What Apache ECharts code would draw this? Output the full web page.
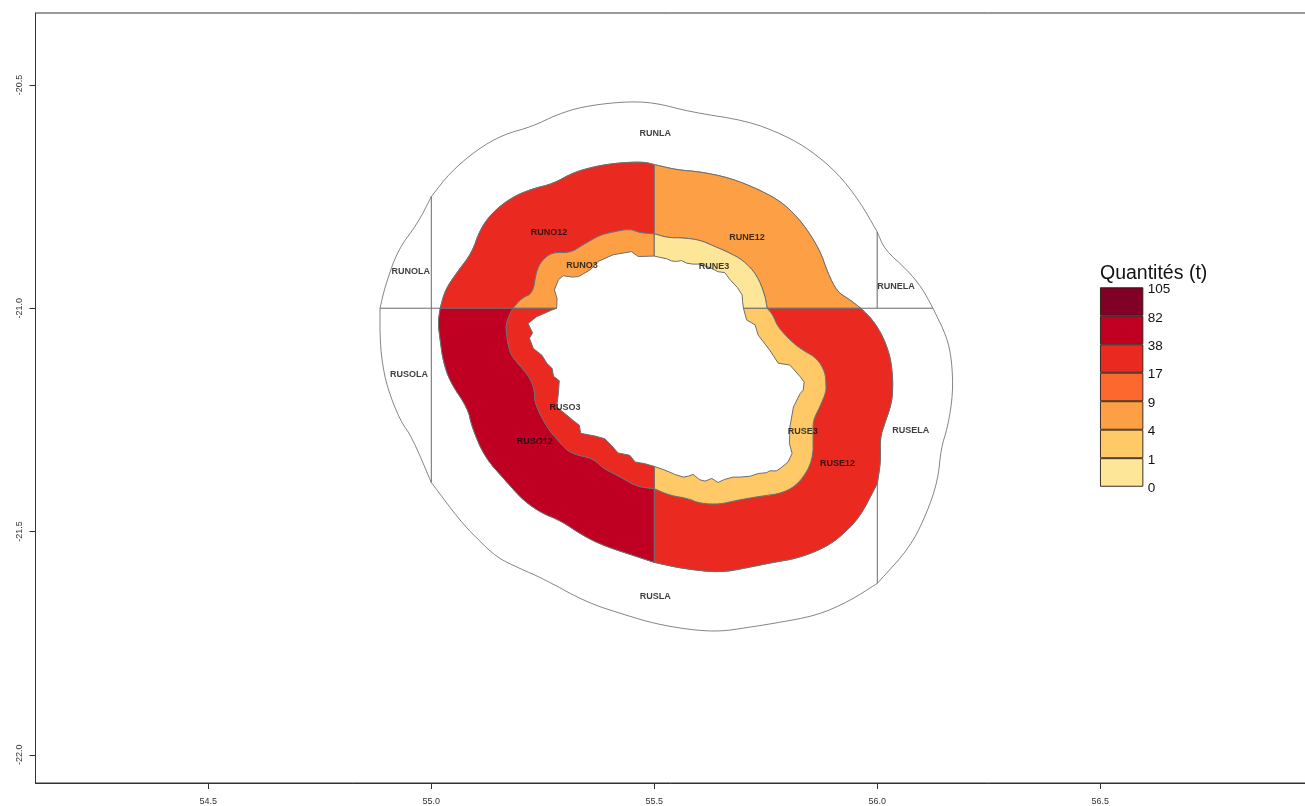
<!DOCTYPE html>
<html><head><meta charset="utf-8">
<style>html,body{margin:0;padding:0;background:#fff;overflow:hidden}#c{width:1305px;height:806px}</style>
<script src="https://cdn.jsdelivr.net/npm/echarts@6/dist/echarts.min.js"></script>
</head><body><div id="c"></div>
<script>
// Tick labels
const lonTicks = [54.5, 55.0, 55.5, 56.0, 56.5];
const latTicks = [-20.5, -21.0, -21.5, -22.0];
// Legend
const legendBreaks = ['0', '1', '4', '9', '17', '38', '82', '105'];
const legendColors = ['#FEE698', '#FEC966', '#FD9F44', '#FD682F', '#EA2A20', '#BF0023', '#800026'];
const breakValues = [0, 1, 4, 9, 17, 38, 82, 105];
// Coast of the island [lon, lat]
const coastNE = [[55.5,-20.883],[55.513,-20.886],[55.528,-20.889],[55.539,-20.894],[55.550,-20.895],[55.561,-20.893],[55.573,-20.899],[55.587,-20.901],[55.602,-20.901],[55.625,-20.909],[55.643,-20.918],[55.658,-20.920],[55.670,-20.936],[55.686,-20.953],[55.697,-20.970],[55.698,-20.985],[55.700,-21]];
const coastSE = [[55.700,-21],[55.707,-21.026],[55.726,-21.037],[55.733,-21.060],[55.759,-21.094],[55.778,-21.123],[55.804,-21.127],[55.827,-21.153],[55.836,-21.165],[55.834,-21.183],[55.827,-21.191],[55.812,-21.221],[55.804,-21.266],[55.803,-21.303],[55.809,-21.325],[55.800,-21.344],[55.782,-21.359],[55.774,-21.364],[55.759,-21.364],[55.752,-21.368],[55.733,-21.370],[55.715,-21.376],[55.692,-21.378],[55.677,-21.378],[55.658,-21.383],[55.643,-21.390],[55.629,-21.381],[55.614,-21.387],[55.602,-21.384],[55.587,-21.372],[55.576,-21.376],[55.565,-21.378],[55.546,-21.372],[55.535,-21.367],[55.520,-21.361],[55.5,-21.354]];
const coastSW = [[55.5,-21.354],[55.479,-21.348],[55.457,-21.344],[55.445,-21.329],[55.419,-21.324],[55.404,-21.307],[55.389,-21.292],[55.367,-21.286],[55.335,-21.280],[55.332,-21.262],[55.318,-21.251],[55.300,-21.236],[55.281,-21.221],[55.285,-21.191],[55.287,-21.162],[55.274,-21.152],[55.271,-21.135],[55.259,-21.123],[55.248,-21.105],[55.229,-21.090],[55.220,-21.067],[55.227,-21.055],[55.217,-21.034],[55.236,-21.019],[55.270,-21.004],[55.281,-21]];
const coastNW = [[55.281,-21],[55.282,-20.978],[55.276,-20.959],[55.285,-20.936],[55.296,-20.927],[55.315,-20.930],[55.330,-20.929],[55.356,-20.914],[55.374,-20.895],[55.408,-20.880],[55.449,-20.873],[55.464,-20.884],[55.5,-20.883]];
// Limit between the 3 and 12 mile zones
const midNE = [[55.5,-20.833],[55.531,-20.842],[55.564,-20.842],[55.602,-20.847],[55.632,-20.860],[55.665,-20.874],[55.699,-20.892],[55.730,-20.925],[55.748,-20.970],[55.753,-21]];
const midSE = [[55.753,-21],[55.766,-21.015],[55.777,-21.042],[55.809,-21.076],[55.833,-21.094],[55.865,-21.112],[55.883,-21.143],[55.885,-21.170],[55.885,-21.188],[55.871,-21.221],[55.856,-21.251],[55.856,-21.278],[55.856,-21.340],[55.827,-21.390],[55.789,-21.414],[55.737,-21.421],[55.685,-21.430],[55.647,-21.439],[55.602,-21.437],[55.576,-21.426],[55.535,-21.419],[55.5,-21.404]];
const midSW = [[55.5,-21.404],[55.461,-21.399],[55.430,-21.381],[55.385,-21.358],[55.363,-21.336],[55.311,-21.325],[55.284,-21.296],[55.259,-21.266],[55.232,-21.213],[55.232,-21.184],[55.221,-21.154],[55.192,-21.121],[55.176,-21.100],[55.167,-21.049],[55.170,-21.026],[55.183,-21]];
const midNW = [[55.183,-21],[55.203,-20.977],[55.228,-20.966],[55.235,-20.919],[55.248,-20.892],[55.273,-20.874],[55.311,-20.876],[55.340,-20.858],[55.378,-20.836],[55.407,-20.829],[55.445,-20.822],[55.468,-20.831],[55.5,-20.833]];
// Outer limit of the 12 mile zone
const outerNE = [[55.5,-20.678],[55.551,-20.690],[55.602,-20.694],[55.670,-20.708],[55.737,-20.735],[55.789,-20.764],[55.833,-20.809],[55.871,-20.869],[55.889,-20.921],[55.910,-20.963],[55.939,-20.981],[55.963,-21]];
const outerE = [[55.963,-21],[55.990,-21.026],[56.013,-21.064],[56.028,-21.105],[56.033,-21.138],[56.035,-21.168],[56.033,-21.210],[56.017,-21.257],[56.006,-21.291],[56.008,-21.340],[56.0,-21.392]];
const outerSE = [[56.0,-21.392],[55.961,-21.468],[55.916,-21.513],[55.878,-21.538],[55.820,-21.560],[55.766,-21.569],[55.708,-21.581],[55.647,-21.592],[55.564,-21.583],[55.5,-21.569]];
const outerSW = [[55.5,-21.569],[55.439,-21.549],[55.385,-21.531],[55.340,-21.509],[55.289,-21.475],[55.248,-21.459],[55.206,-21.430],[55.170,-21.390],[55.120,-21.334],[55.091,-21.266],[55.082,-21.224],[55.042,-21.165],[55.026,-21.116],[55.020,-21.071],[55.015,-21.033],[55.020,-21]];
const outerNW = [[55.020,-21],[55.031,-20.959],[55.058,-20.919],[55.091,-20.876],[55.109,-20.824],[55.138,-20.784],[55.183,-20.750],[55.228,-20.732],[55.273,-20.721],[55.318,-20.696],[55.372,-20.681],[55.423,-20.674],[55.475,-20.672],[55.5,-20.678]];
// Limit of the large zones
const farN = [[55.0,-20.750],[55.042,-20.696],[55.102,-20.645],[55.161,-20.611],[55.226,-20.593],[55.282,-20.566],[55.340,-20.548],[55.430,-20.537],[55.5,-20.539],[55.580,-20.560],[55.708,-20.580],[55.789,-20.611],[55.849,-20.645],[55.910,-20.696],[55.961,-20.761],[56.0,-20.829]];
const farNE = [[56.0,-20.829],[56.017,-20.869],[56.067,-20.914],[56.100,-20.954],[56.125,-21]];
const farE = [[56.125,-21],[56.156,-21.064],[56.167,-21.116],[56.170,-21.190],[56.158,-21.266],[56.143,-21.313],[56.136,-21.385],[56.111,-21.459],[56.073,-21.536],[56.0,-21.616]];
const farS = [[56.0,-21.616],[55.939,-21.655],[55.865,-21.688],[55.766,-21.706],[55.708,-21.715],[55.647,-21.724],[55.580,-21.720],[55.5,-21.706],[55.439,-21.688],[55.349,-21.659],[55.250,-21.605],[55.199,-21.583],[55.147,-21.558],[55.102,-21.515],[55.064,-21.475],[55.0,-21.390]];
const farSW = [[55.0,-21.390],[54.957,-21.289],[54.930,-21.251],[54.901,-21.177],[54.889,-21.116],[54.885,-21.064],[54.885,-21]];
const farNW = [[54.885,-21],[54.896,-20.952],[54.925,-20.869],[54.970,-20.809],[55.0,-20.750]];
// Zones
const zoneNames = ['RUNLA','RUNOLA','RUNELA','RUSELA','RUSLA','RUSOLA','RUNO12','RUNE12','RUSE12','RUSO12','RUNO3','RUNE3','RUSE3','RUSO3'];
const zoneQuantities = [null,null,null,null,null,null,30,6,32,60,6,0.5,2.5,28];
const labelLon = [55.502,54.954,56.042,56.075,55.502,54.950,55.264,55.708,55.911,55.232,55.338,55.634,55.833,55.300];
const labelLat = [-20.607,-20.916,-20.948,-21.271,-21.643,-21.145,-20.829,-20.840,-21.345,-21.296,-20.903,-20.905,-21.273,-21.221];

// Round the drawn line between the read points; the ends of each limit stay in place.
function curve(seg) {
  let pts = seg;
  for (let k = 0; k < 2; k++) {
    const out = [pts[0]];
    for (let i = 0; i < pts.length - 1; i++) {
      const a = pts[i], b = pts[i + 1];
      out.push([a[0] * .75 + b[0] * .25, a[1] * .75 + b[1] * .25]);
      out.push([a[0] * .25 + b[0] * .75, a[1] * .25 + b[1] * .75]);
    }
    out.push(pts[pts.length - 1]);
    pts = out;
  }
  return pts;
}
const rev = a => a.slice().reverse();
const rings = [
  [...curve(farN), [56.0,-21], ...rev(curve(outerNE)), ...rev(curve(outerNW)), [55.0,-21]],
  [...curve(farNW), [55.0,-21]],
  [...curve(farNE), [56.0,-21]],
  [...curve(farE), ...rev(curve(outerE))],
  [...curve(farS), [55.0,-21], ...rev(curve(outerSW)), ...rev(curve(outerSE))],
  [...curve(farSW), [55.0,-21]],
  [...curve(outerNW), ...rev(curve(midNW))],
  [...curve(outerNE), ...rev(curve(midNE))],
  [...curve(outerE), ...curve(outerSE), ...rev(curve(midSE))],
  [...curve(outerSW), ...rev(curve(midSW))],
  [...curve(midNW), ...rev(coastNW)],
  [...curve(midNE), ...rev(coastNE)],
  [...curve(midSE), ...rev(coastSE)],
  [...curve(midSW), ...rev(coastSW)]
];
function colorOf(v) {
  if (v === null) return '#ffffff';
  for (let i = 0; i < legendColors.length; i++) if (v <= breakValues[i + 1]) return legendColors[i];
  return legendColors[legendColors.length - 1];
}
const FONT = '"Liberation Sans", Arial, sans-serif';
const chart = echarts.init(document.getElementById('c'), null, {renderer: 'canvas'});
const option = {
  animation: false,
  backgroundColor: '#ffffff',
  title: {text: 'Quantités (t)', left: 1100, top: 264, padding: 0, textStyle: {fontFamily: FONT, fontSize: 19.5, fontWeight: 'normal', color: '#111'}},
  grid: [
    {left: 35.5, top: 13, width: 1271.5, height: 770, show: true, outerBoundsMode: 'none', borderColor: '#333', borderWidth: 1, backgroundColor: '#fff'},
    {left: 1100, top: 287.3, width: 43.3, height: 199.4, outerBoundsMode: 'none'}
  ],
  xAxis: [
    {type: 'value', gridIndex: 0, min: 54.1126, max: 56.9635, splitLine: {show: false},
     axisLine: {show: true, onZero: false, lineStyle: {color: '#333', width: 1}},
     axisTick: {show: true, length: 6, customValues: lonTicks, lineStyle: {color: '#333'}},
     axisLabel: {customValues: lonTicks, formatter: v => Number(v).toFixed(1), fontFamily: FONT, fontSize: 9, color: '#333', margin: 14}},
    {type: 'category', gridIndex: 1, data: ['q'], show: false}
  ],
  yAxis: [
    {type: 'value', gridIndex: 0, min: -22.0631, max: -20.3386, splitLine: {show: false},
     axisLine: {show: true, onZero: false, lineStyle: {color: '#333', width: 1}},
     axisTick: {show: true, length: 6, customValues: latTicks, lineStyle: {color: '#333'}},
     axisLabel: {customValues: latTicks, formatter: v => Number(v).toFixed(1), fontFamily: FONT, fontSize: 9, color: '#333', rotate: 90, margin: 11}},
    {type: 'value', gridIndex: 1, min: 0, max: 7, interval: 1, position: 'right', splitLine: {show: false},
     axisLine: {show: false}, axisTick: {show: false},
     axisLabel: {formatter: v => '{a|' + legendBreaks[v] + '}', margin: 4.5, showMinLabel: true, showMaxLabel: true,
       rich: {a: {fontFamily: FONT, fontSize: 13.5, color: '#111', padding: [4, 0, 0, 0]}}}}
  ],
  series: [
    {type: 'custom', xAxisIndex: 0, yAxisIndex: 0, silent: true, clip: true, z: 2,
     data: zoneNames.map((n, i) => ({name: n, value: [labelLon[i], labelLat[i], zoneQuantities[i]]})),
     renderItem: (params, api) => {
       const i = params.dataIndex;
       const isBig = zoneQuantities[i] === null;
       return {type: 'polygon', z2: isBig ? 1 : 2,
         shape: {points: rings[i].map(p => api.coord(p))},
         style: {fill: colorOf(zoneQuantities[i]), stroke: isBig ? '#666' : '#6e6e6e', lineWidth: isBig ? 0.8 : 1}};
     }},
    {type: 'scatter', xAxisIndex: 0, yAxisIndex: 0, silent: true, z: 5, symbolSize: 0,
     data: zoneNames.map((n, i) => ({name: n, value: [labelLon[i], labelLat[i]]})),
     label: {show: true, position: 'inside', offset: [0, 1], formatter: '{b}', fontFamily: FONT, fontSize: 9, fontWeight: 'bold', color: '#0d0d0d'}},
    ...legendColors.map((c, i) => ({
      type: 'bar', xAxisIndex: 1, yAxisIndex: 1, stack: 'legend', barWidth: '100%', silent: true,
      data: [1], itemStyle: {color: c, borderColor: '#2a1a10', borderWidth: 0.9}
    }))
  ]
};
chart.setOption(option);
</script></body></html>
